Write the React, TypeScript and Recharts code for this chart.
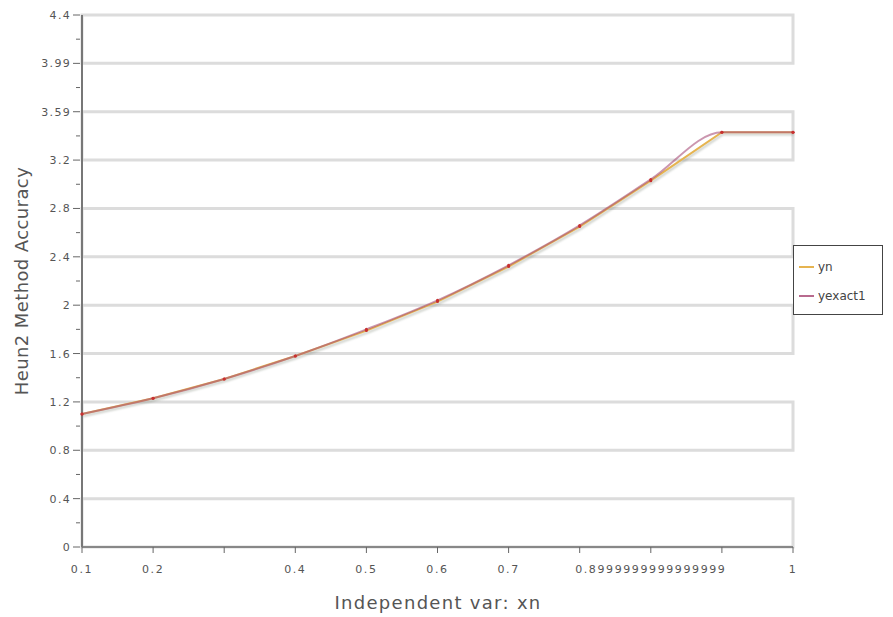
import React from 'react';
import { LineChart, Line, XAxis, YAxis, ReferenceArea } from 'recharts';

const categories = ["0.1","0.2","0.30000000000000004","0.4","0.5","0.6","0.7","0.7999999999999999","0.8999999999999999","0.9999999999999999","1"];
const hiddenXLabels = ["0.30000000000000004","0.7999999999999999","0.9999999999999999"];
const ynValues = [1.1, 1.23, 1.39, 1.58, 1.79, 2.03, 2.32, 2.65, 3.03, 3.43, 3.43];
const yexact1Values = [1.1, 1.23, 1.39, 1.58, 1.8, 2.04, 2.33, 2.66, 3.04, 3.43, 3.43];
const yTicks = [0,0.2,0.4,0.6,0.8,1.0,1.2,1.4,1.6,1.8,2.0,2.2,2.4,2.6,2.8,3.0,3.2,3.4,3.6,3.8,4.0,4.2,4.4];
const yTickLabels = ["0","","0.4","","0.8","","1.2","","1.6","","2","","2.4","","2.8","","3.2","","3.59","","3.99","","4.4"];
const bands: [number, number][] = [[0,0.4],[0.8,1.2],[1.6,2.0],[2.4,2.8],[3.2,3.6],[4.0,4.4]];
const seriesNames = ["yn", "yexact1"];
const seriesColors = ["#e6b450", "#b86a8e"];

const data = categories.map((c, i) => ({ x: c, yn: ynValues[i], yexact1: yexact1Values[i] }));

const TXT = '#555';
const FONT = '"DejaVu Sans", sans-serif';

const YTick = (props: any) => {
  const { x, y, index } = props;
  const label = yTickLabels[index] ?? '';
  const major = label !== '';
  return (
    <g>
      <line x1={x + 6 - (major ? 7 : 4)} x2={x + 6} y1={y} y2={y} stroke="#666" strokeWidth={1} />
      {major && (
        <text x={x - 3} y={y} dy={4} textAnchor="end" fontSize={11} fontFamily={FONT} fill={TXT} letterSpacing={1.3}>{label}</text>
      )}
    </g>
  );
};

const XTick = (props: any) => {
  const { x, y, payload } = props;
  const v = payload.value as string;
  const show = !hiddenXLabels.includes(v);
  return (
    <g>
      <line x1={x} x2={x} y1={y - 8} y2={y - 2} stroke="#666" strokeWidth={1} />
      {show && (
        <text x={x} y={y + 18} textAnchor="middle" fontSize={11} fontFamily={FONT} fill={TXT} letterSpacing={1.6}>{v}</text>
      )}
    </g>
  );
};

export default function App() {
  return (
    <div style={{ position: 'absolute', left: 0, top: 0, width: 893, height: 617, background: '#fff' }}>
      <style>{`.shadow-line path.recharts-curve { filter: drop-shadow(1px 2px 1px rgba(90,100,80,0.35)); }`}</style>
      <LineChart width={893} height={617} data={data} margin={{ top: 15, right: 100, bottom: 40, left: 22 }}>
        {bands.map(([a, b], i) => (
          <ReferenceArea key={i} y1={a} y2={b} fill="none" stroke="#dcdcdc" strokeWidth={3} ifOverflow="extendDomain" />
        ))}
        <XAxis
          dataKey="x"
          type="category"
          interval={0}
          height={30}
          axisLine={{ stroke: '#888', strokeWidth: 2 }}
          tickLine={false}
          tick={<XTick />}
        />
        <YAxis
          type="number"
          domain={[0, 4.4]}
          ticks={yTicks}
          interval={0}
          width={60}
          axisLine={{ stroke: '#777', strokeWidth: 2 }}
          tickLine={false}
          tick={<YTick />}
        />
        <Line
          className="shadow-line"
          type="linear"
          dataKey="yn"
          name={seriesNames[0]}
          stroke={seriesColors[0]}
          strokeWidth={2}
          dot={{ r: 1.5, fill: '#c83030', stroke: 'none' }}
          isAnimationActive={false}
        />
        <Line
          type="monotone"
          dataKey="yexact1"
          name={seriesNames[1]}
          stroke="#a8507a"
          strokeOpacity={0.6}
          strokeWidth={2}
          dot={{ r: 1.5, fill: '#c83030', stroke: 'none' }}
          isAnimationActive={false}
        />
      </LineChart>
      <div style={{ position: 'absolute', left: 793, top: 245, width: 90, height: 70, border: '1px solid #444', boxSizing: 'border-box', padding: '6px 0 0 5px', background: '#fff' }}>
        {seriesNames.map((n, i) => (
          <div key={n} style={{ display: 'flex', alignItems: 'center', height: 29, fontFamily: FONT, fontSize: 12, color: '#444' }}>
            <span style={{ display: 'inline-block', width: 15, height: 2, background: seriesColors[i], marginRight: 4 }} />
            {n}
          </div>
        ))}
      </div>
      <div style={{ position: 'absolute', left: 0, top: 592, width: 876, textAlign: 'center', fontFamily: FONT, fontSize: 18, letterSpacing: 1.3, color: TXT, lineHeight: '22px' }}>
        Independent var: xn
      </div>
      <div style={{ position: 'absolute', left: 22, top: 281, width: 0, height: 0 }}>
        <div style={{ position: 'absolute', left: -150, top: -11, width: 300, textAlign: 'center', fontFamily: FONT, fontSize: 18, letterSpacing: 0.4, color: TXT, lineHeight: '22px', transform: 'rotate(-90deg)' }}>
          Heun2 Method Accuracy
        </div>
      </div>
    </div>
  );
}
